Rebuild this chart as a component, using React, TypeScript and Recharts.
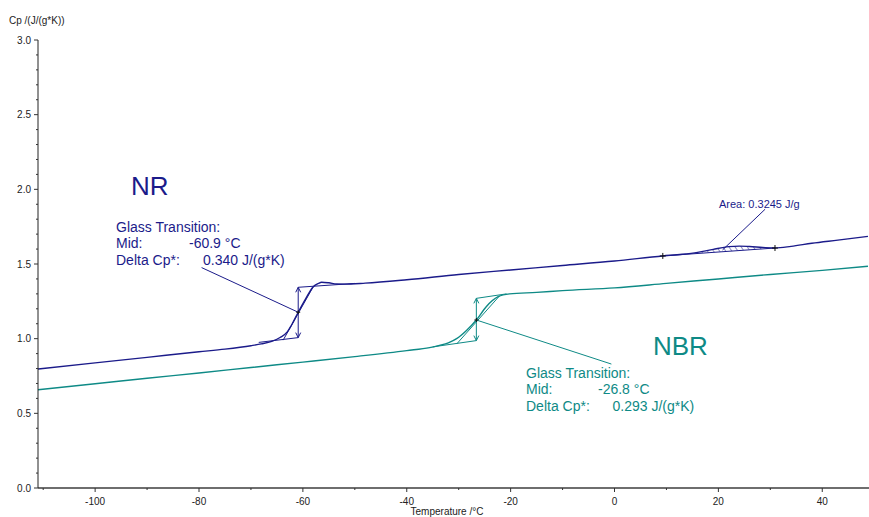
import React from "react";
import { ComposedChart, Line, Area, XAxis, YAxis, ReferenceLine, ReferenceDot } from "recharts";

// NR curve (temperature °C, Cp J/(g*K))
const NR_T = [-111, -100, -90, -80, -75, -70, -68, -66, -64.4, -63, -62.2, -60.9, -59.5, -58, -57, -56.4, -55, -53.5, -52, -48, -40, -30, -20, -10, 0, 9.3, 13, 16, 19, 22, 24, 26, 28.5, 30.9, 34, 38, 43, 48.8];
const NR_CP = [0.797, 0.838, 0.875, 0.912, 0.93, 0.953, 0.965, 0.982, 1.008, 1.045, 1.09, 1.177, 1.265, 1.348, 1.37, 1.378, 1.374, 1.366, 1.365, 1.372, 1.395, 1.43, 1.46, 1.49, 1.52, 1.554, 1.565, 1.578, 1.598, 1.616, 1.62, 1.617, 1.611, 1.607, 1.618, 1.639, 1.66, 1.685];

// NBR curve
const NBR_T = [-111, -100, -90, -80, -70, -60, -50, -40, -35.6, -33.7, -32, -30.4, -28.5, -26.6, -24.7, -22.4, -20.2, -15, -10, 0, 10, 20, 30, 40, 48.8];
const NBR_CP = [0.658, 0.698, 0.735, 0.77, 0.807, 0.843, 0.88, 0.92, 0.94, 0.955, 0.972, 1.0, 1.055, 1.125, 1.214, 1.281, 1.3, 1.31, 1.322, 1.34, 1.37, 1.4, 1.43, 1.457, 1.485];

// melting-peak area (baseline vs curve)
const AREA_T = [9.3, 13, 16, 19, 22, 24, 26, 28.5, 30.9];
const AREA_BASE = [1.554, 1.563, 1.57, 1.578, 1.585, 1.59, 1.595, 1.6, 1.607];
const AREA_TOP = [1.554, 1.565, 1.578, 1.598, 1.616, 1.62, 1.617, 1.611, 1.607];

const X_TICKS = [-110, -100, -90, -80, -70, -60, -50, -40, -30, -20, -10, 0, 10, 20, 30, 40];
const Y_TICKS = [0, 0.1, 0.2, 0.3, 0.4, 0.5, 0.6, 0.7, 0.8, 0.9, 1, 1.1, 1.2, 1.3, 1.4, 1.5, 1.6, 1.7, 1.8, 1.9, 2, 2.1, 2.2, 2.3, 2.4, 2.5, 2.6, 2.7, 2.8, 2.9, 3];

const NAVY = "#1b1b8a";
const TEAL = "#0e8a86";
const FONT = "'Liberation Sans', Arial, sans-serif";

const nrData = NR_T.map((t, i) => ({ t, cp: NR_CP[i] }));
const nbrData = NBR_T.map((t, i) => ({ t, cp: NBR_CP[i] }));
const areaData = AREA_T.map((t, i) => ({ t, range: [AREA_BASE[i], AREA_TOP[i]] }));

const XTick = (props: any) => {
  const { x, y, payload } = props;
  const major = payload.value % 20 === 0;
  return (
    <g>
      <line x1={x} x2={x} y1={y} y2={y + (major ? 4 : 2)} stroke="#333" />
      {major && (
        <text x={x} y={y + 17} textAnchor="middle" fontSize={10} fontFamily={FONT} fill="#222">
          {payload.value}
        </text>
      )}
    </g>
  );
};

const YTick = (props: any) => {
  const { x, y, payload } = props;
  const v = payload.value;
  const major = Math.abs(v * 2 - Math.round(v * 2)) < 1e-6;
  return (
    <g>
      <line x1={x - (major ? 4 : 2)} x2={x} y1={y} y2={y} stroke="#333" />
      {major && (
        <text x={x - 7} y={y + 3.5} textAnchor="end" fontSize={10} fontFamily={FONT} fill="#222">
          {v.toFixed(1)}
        </text>
      )}
    </g>
  );
};

const cross = (color: string, s: number) => (p: any) => (
  <g>
    <line x1={p.cx - s} x2={p.cx + s} y1={p.cy} y2={p.cy} stroke={color} strokeWidth={1} />
    <line x1={p.cx} x2={p.cx} y1={p.cy - s} y2={p.cy + s} stroke={color} strokeWidth={1} />
  </g>
);

const arrowHead = (color: string, up: boolean) => (p: any) => {
  const d = up ? 5 : -5;
  return <path d={`M${p.cx - 2.5},${p.cy + d} L${p.cx},${p.cy} L${p.cx + 2.5},${p.cy + d}`} fill="none" stroke={color} strokeWidth={1} />;
};

const seg = (x1: number, y1: number, x2: number, y2: number, color: string, key: string) => (
  <ReferenceLine key={key} segment={[{ x: x1, y: y1 }, { x: x2, y: y2 }]} stroke={color} strokeWidth={1} />
);

export default function App() {
  return (
    <div style={{ position: "absolute", left: 0, top: 0, width: 869, height: 517, background: "#fff" }}>
      <ComposedChart width={869} height={517} margin={{ top: 40, right: 0, bottom: 0, left: 0 }}>
        <defs>
          <pattern id="hatch" width="5" height="5" patternUnits="userSpaceOnUse" patternTransform="rotate(-35)">
            <line x1="0" y1="0" x2="0" y2="5" stroke={NAVY} strokeWidth={1} />
          </pattern>
        </defs>
        <XAxis
          type="number"
          dataKey="t"
          domain={[-111, 49]}
          allowDataOverflow
          ticks={X_TICKS}
          interval={0}
          height={29}
          tickSize={0}
          tickMargin={0}
          tickLine={false}
          tick={<XTick />}
          axisLine={{ stroke: "#6e6e6e", strokeWidth: 2 }}
        />
        <YAxis
          type="number"
          domain={[0, 3]}
          allowDataOverflow
          ticks={Y_TICKS}
          interval={0}
          width={38}
          tickSize={0}
          tickMargin={0}
          tickLine={false}
          tick={<YTick />}
          axisLine={{ stroke: "#222", strokeWidth: 1 }}
        />
        <Area data={areaData} dataKey="range" type="monotone" stroke="none" fill="url(#hatch)" fillOpacity={1} isAnimationActive={false} />
        <Line data={nbrData} dataKey="cp" type="monotone" stroke={TEAL} strokeWidth={1.4} dot={false} isAnimationActive={false} />
        <Line data={nrData} dataKey="cp" type="monotone" stroke={NAVY} strokeWidth={1.4} dot={false} isAnimationActive={false} />

        {/* NR glass transition construction */}
        {seg(-68.5, 0.975, -60.9, 1.007, NAVY, "nr1")}
        {seg(-60.9, 1.344, -50, 1.37, NAVY, "nr2")}
        {seg(-63.8, 0.99, -58.0, 1.348, NAVY, "nr3")}
        {seg(-60.9, 1.007, -60.9, 1.344, NAVY, "nr4")}
        {seg(-60.9, 1.177, -79.5, 1.476, NAVY, "nr5")}
        <ReferenceDot x={-60.9} y={1.344} r={0} shape={arrowHead(NAVY, true)} />
        <ReferenceDot x={-60.9} y={1.007} r={0} shape={arrowHead(NAVY, false)} />
        <ReferenceDot x={-60.9} y={1.177} r={0} shape={cross("#111", 2)} />

        {/* NBR glass transition construction */}
        {seg(-35, 0.945, -26.6, 0.987, TEAL, "nb1")}
        {seg(-26.6, 1.27, -20.8, 1.3, TEAL, "nb2")}
        {seg(-30.4, 0.964, -22.1, 1.288, TEAL, "nb3")}
        {seg(-26.6, 0.987, -26.6, 1.27, TEAL, "nb4")}
        {seg(-26.6, 1.125, -0.6, 0.83, TEAL, "nb5")}
        <ReferenceDot x={-26.6} y={1.27} r={0} shape={arrowHead(TEAL, true)} />
        <ReferenceDot x={-26.6} y={0.987} r={0} shape={arrowHead(TEAL, false)} />
        <ReferenceDot x={-26.6} y={1.125} r={0} shape={cross("#111", 2)} />

        {/* NR peak area */}
        {seg(9.3, 1.554, 30.9, 1.607, NAVY, "ar1")}
        {seg(20.8, 1.594, 29.0, 1.867, NAVY, "ar2")}
        <ReferenceDot x={9.3} y={1.554} r={0} shape={cross("#111", 3)} />
        <ReferenceDot x={30.9} y={1.607} r={0} shape={cross("#111", 3)} />
      </ComposedChart>

      <svg width={869} height={517} style={{ position: "absolute", left: 0, top: 0, pointerEvents: "none" }} fontFamily={FONT}>
        <text x={9} y={24} fontSize={10} fill="#222">Cp /(J/(g*K))</text>
        <text x={447} y={515} fontSize={10} fill="#222" textAnchor="middle">Temperature /°C</text>

        <text x={131} y={195} fontSize={26} fill={NAVY}>NR</text>
        <g fontSize={14} fill={NAVY}>
          <text x={116} y={231.5}>Glass Transition:</text>
          <text x={116} y={248}>Mid:</text>
          <text x={189} y={248}>-60.9 °C</text>
          <text x={116} y={264.5}>Delta Cp*:</text>
          <text x={203} y={264.5}>0.340 J/(g*K)</text>
        </g>

        <text x={653} y={355} fontSize={26} fill={TEAL}>NBR</text>
        <g fontSize={14} fill={TEAL}>
          <text x={526} y={378}>Glass Transition:</text>
          <text x={526} y={394}>Mid:</text>
          <text x={598} y={394}>-26.8 °C</text>
          <text x={526} y={410.5}>Delta Cp*:</text>
          <text x={612.5} y={410.5}>0.293 J/(g*K)</text>
        </g>

        <text x={719} y={208} fontSize={11} fill={NAVY}>Area: 0.3245 J/g</text>
      </svg>
    </div>
  );
}
